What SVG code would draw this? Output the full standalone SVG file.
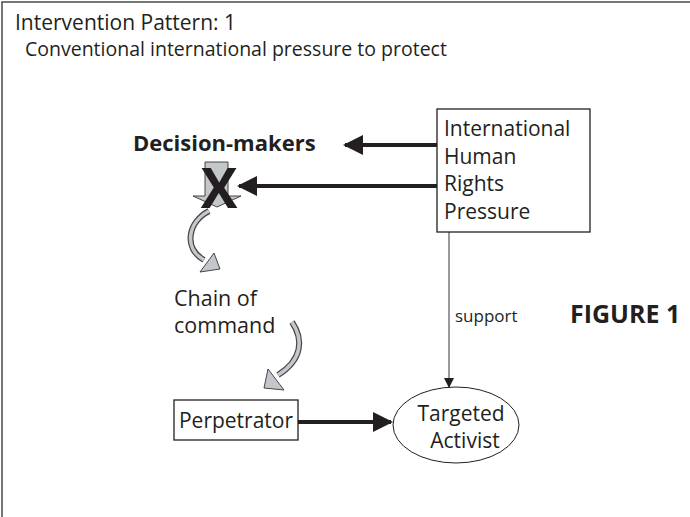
<svg xmlns="http://www.w3.org/2000/svg" width="690" height="517" viewBox="0 0 690 517">
<style>
.t{font-family:"Open Sans","Liberation Sans",sans-serif;fill:#231f20}
.b{font-weight:bold}
.box{fill:#fff;stroke:#231f20;stroke-width:1.3}
.thick{stroke:#231f20;stroke-width:4;fill:none}
.gray{fill:#c3c7cb;stroke:#333;stroke-width:0.9}
</style>
<defs>
<marker id="ah" markerWidth="5" markerHeight="5" refX="4.5" refY="2.5" orient="auto" markerUnits="strokeWidth" viewBox="0 0 5 5">
<path d="M0,0 L5,2.5 L0,5 z" fill="#231f20"/>
</marker>
<marker id="ah2" markerWidth="10" markerHeight="10" refX="10" refY="5" orient="auto" markerUnits="userSpaceOnUse" viewBox="0 0 10 10">
<path d="M0,0 L10,5 L0,10 z" fill="#231f20"/>
</marker>
</defs>
<rect x="2" y="2" width="720" height="560" fill="#fff" stroke="#4a4a4a" stroke-width="1.5"/>
<text class="t" x="15" y="30" font-size="21">Intervention Pattern: 1</text>
<text class="t" x="25" y="56" font-size="19.5">Conventional international pressure to protect</text>

<g id="connectors">
<line class="thick" x1="437" y1="145" x2="345" y2="145" marker-end="url(#ah)"/>
<line class="thick" x1="437" y1="186" x2="239" y2="186" marker-end="url(#ah)"/>
<line x1="449" y1="232" x2="449" y2="388" stroke="#555" stroke-width="1.2" marker-end="url(#ah2)"/>
<line class="thick" x1="298" y1="422" x2="391" y2="422" marker-end="url(#ah)"/>
<g id="curve1">
<path d="M209,211 C188,222 183,248 204,260" fill="none" stroke="#444" stroke-width="6"/>
<path d="M209,211 C188,222 183,248 204,260" fill="none" stroke="#c3c7cb" stroke-width="3.6"/>
<polygon class="gray" points="214,253 200,272 220,269"/>
</g>
<g id="curve2">
<path d="M292,322 C304,340 302,360 278,375" fill="none" stroke="#444" stroke-width="6"/>
<path d="M292,322 C304,340 302,360 278,375" fill="none" stroke="#c3c7cb" stroke-width="3.6"/>
<polygon class="gray" points="268,369 284,390 264,388"/>
</g>
<text class="t" x="455" y="322" font-size="17">support</text>
</g>

<g id="pressure">
<rect class="box" x="437" y="109" width="153" height="123"/>
<text class="t" x="444" y="136" font-size="21">International</text>
<text class="t" x="444" y="163.5" font-size="21">Human</text>
<text class="t" x="444" y="191" font-size="21">Rights</text>
<text class="t" x="444" y="218.5" font-size="21">Pressure</text>
</g>

<g id="decision-makers">
<text class="t b" x="133" y="151" font-size="22">Decision-makers</text>
<polygon class="gray" points="205,162 228,162 228,196 241,196 217,207 193,196 205,196"/>
<text class="t b" x="219" y="208" font-size="55" text-anchor="middle">X</text>
</g>

<g id="chain">
<text class="t" x="174" y="306" font-size="21.5">Chain of</text>
<text class="t" x="174" y="333" font-size="21.5">command</text>
</g>

<g id="perpetrator">
<rect class="box" x="174" y="400" width="124" height="40"/>
<text class="t" x="236" y="428" font-size="21" text-anchor="middle">Perpetrator</text>
</g>

<g id="activist">
<ellipse cx="456" cy="425" rx="63" ry="38" fill="#fff" stroke="#231f20" stroke-width="1"/>
<text class="t" x="461" y="421" font-size="21" text-anchor="middle">Targeted</text>
<text class="t" x="465" y="448" font-size="21" text-anchor="middle">Activist</text>
</g>

<text class="t b" x="570" y="323" font-size="25">FIGURE 1</text>
</svg>
